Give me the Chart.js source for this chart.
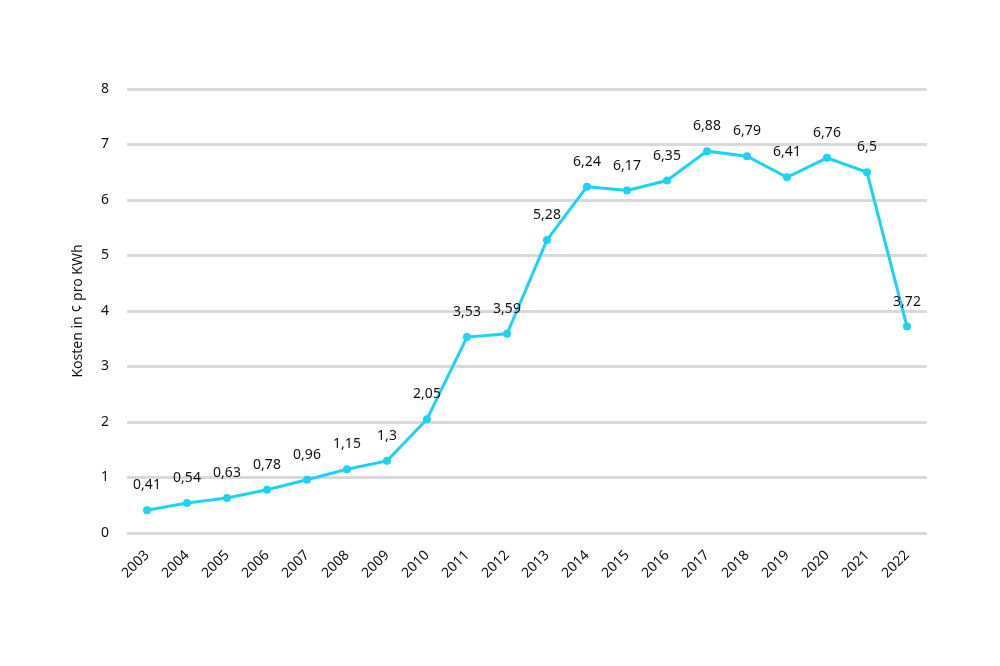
<!DOCTYPE html>
<html>
<head>
<meta charset="utf-8">
<script src="https://cdn.jsdelivr.net/npm/chart.js@4"></script>
<style>
  html, body { margin: 0; padding: 0; background: #fff; }
  #wrap { width: 1000px; height: 666px; }
</style>
</head>
<body>
<div id="wrap"><canvas id="chart" width="1000" height="666"></canvas></div>
<script>
// data
var years = ['2003','2004','2005','2006','2007','2008','2009','2010','2011','2012',
             '2013','2014','2015','2016','2017','2018','2019','2020','2021','2022'];
var kosten = [0.41, 0.54, 0.63, 0.78, 0.96, 1.15, 1.3, 2.05, 3.53, 3.59,
              5.28, 6.24, 6.17, 6.35, 6.88, 6.79, 6.41, 6.76, 6.5, 3.72];
var yTitle = 'Kosten in ¢ pro KWh';

var FONT = '"Noto Sans", Lato, sans-serif';

// simple value labels above each point (no datalabels plugin available)
var valueLabels = {
  id: 'valueLabels',
  afterDatasetsDraw: function (chart) {
    var c = chart.ctx;
    var meta = chart.getDatasetMeta(0);
    c.save();
    c.font = '14px ' + FONT;
    c.fillStyle = '#111';
    c.textAlign = 'center';
    c.textBaseline = 'middle';
    meta.data.forEach(function (pt, i) {
      var txt = String(kosten[i]).replace('.', ',');
      c.fillText(txt, pt.x, pt.y - 25);
    });
    c.restore();
  }
};

const ctx = document.getElementById('chart').getContext('2d');
const myChart = new Chart(ctx, {
  type: 'line',
  data: {
    labels: years,
    datasets: [{
      data: kosten,
      borderColor: '#1dd2f7',
      backgroundColor: '#1dd2f7',
      borderWidth: 3,
      pointRadius: 2.5,
      pointHoverRadius: 2.5,
      tension: 0
    }]
  },
  options: {
    responsive: false,
    animation: false,
    layout: { padding: { left: 66, right: 73, top: 89, bottom: 60 } },
    plugins: {
      legend: { display: false },
      tooltip: { enabled: false }
    },
    scales: {
      x: {
        offset: true,
        grid: { display: false },
        border: { display: false },
        ticks: {
          color: '#111',
          font: { family: FONT, size: 14 },
          maxRotation: 45,
          minRotation: 45,
          padding: 6
        },
        afterFit: function (s) { s.height = 73; }
      },
      y: {
        min: 0,
        max: 8,
        grid: { color: '#d9d9d9', lineWidth: 3, drawTicks: false },
        border: { display: false },
        ticks: {
          stepSize: 1,
          color: '#111',
          font: { family: FONT, size: 14 },
          padding: 18
        },
        title: {
          display: true,
          text: yTitle,
          color: '#111',
          font: { family: FONT, size: 14 },
          padding: { bottom: 8 }
        },
        afterFit: function (s) { s.width = 61; }
      }
    }
  },
  plugins: [valueLabels]
});
</script>
</body>
</html>
